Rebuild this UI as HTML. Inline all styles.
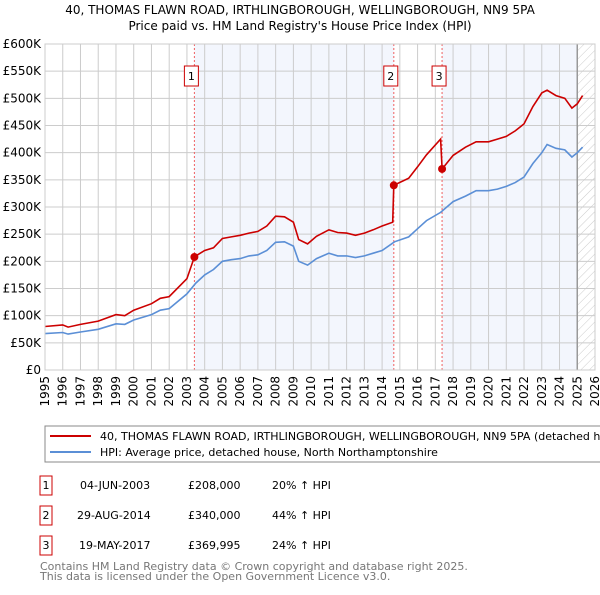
<!DOCTYPE html>
<html><head><meta charset="utf-8"><style>
body{margin:0;background:#fff;font-family:"Liberation Sans","DejaVu Sans",sans-serif;}
svg text{font-family:"DejaVu Sans","Liberation Sans",sans-serif;}
</style></head><body>
<svg id="c" width="600" height="590" xmlns="http://www.w3.org/2000/svg">
<defs><pattern id="hatch" width="6" height="6" patternUnits="userSpaceOnUse" patternTransform="rotate(45)"><line x1="0" y1="0" x2="0" y2="6" stroke="#ccc" stroke-width="1"/></pattern></defs>
<text x="300" y="14" text-anchor="middle" font-size="12">40, THOMAS FLAWN ROAD, IRTHLINGBOROUGH, WELLINGBOROUGH, NN9 5PA</text>
<text x="300" y="30" text-anchor="middle" font-size="12">Price paid vs. HM Land Registry's House Price Index (HPI)</text>
<g id="plot"></g>
<rect x="45" y="426" width="570" height="36" fill="#fff" stroke="#888"/>
<line x1="50" y1="436" x2="91" y2="436" stroke="#cc0000" stroke-width="2"/>
<text x="100" y="440" font-size="11">40, THOMAS FLAWN ROAD, IRTHLINGBOROUGH, WELLINGBOROUGH, NN9 5PA (detached house)</text>
<line x1="50" y1="452" x2="91" y2="452" stroke="#5b8fd6" stroke-width="2"/>
<text x="100" y="456" font-size="11">HPI: Average price, detached house, North Northamptonshire</text>
<g font-size="11">
<rect x="40" y="476" width="12" height="19" fill="#fff" stroke="#cc0000"/><text x="46" y="489" text-anchor="middle">1</text>
<text x="80" y="489">04-JUN-2003</text><text x="188" y="489">£208,000</text><text x="272" y="489">20% ↑ HPI</text>
<rect x="40" y="506" width="12" height="19" fill="#fff" stroke="#cc0000"/><text x="46" y="519" text-anchor="middle">2</text>
<text x="77" y="519">29-AUG-2014</text><text x="188" y="519">£340,000</text><text x="272" y="519">44% ↑ HPI</text>
<rect x="40" y="536" width="12" height="19" fill="#fff" stroke="#cc0000"/><text x="46" y="549" text-anchor="middle">3</text>
<text x="79" y="549">19-MAY-2017</text><text x="188" y="549">£369,995</text><text x="272" y="549">24% ↑ HPI</text>
</g>
<text x="40" y="570" font-size="11" fill="#777">Contains HM Land Registry data © Crown copyright and database right 2025.</text>
<text x="40" y="580" font-size="11" fill="#777">This data is licensed under the Open Government Licence v3.0.</text>
</svg>
<script>
const hpiDates=[1995,1996,1996.3,1997,1998,1999,1999.5,2000,2001,2001.5,2002,2003,2003.5,2004,2004.5,2005,2005.5,2006,2006.5,2007,2007.5,2008,2008.5,2009,2009.3,2009.8,2010.3,2011,2011.5,2012,2012.5,2013,2013.5,2014,2014.7,2015.5,2016,2016.5,2017.3,2018,2018.7,2019.3,2020,2020.5,2021,2021.5,2022,2022.5,2023,2023.3,2023.8,2024.3,2024.7,2025,2025.3];
const hpiValues=[67,69,66,70,75,85,84,92,102,110,113,140,160,175,185,200,203,205,210,212,220,235,236,228,200,193,205,215,210,210,207,210,215,220,236,245,260,275,290,310,320,330,330,333,338,345,355,380,400,415,408,405,392,400,410];
const propDates=[1995,1996,1996.3,1997,1998,1999,1999.5,2000,2001,2001.5,2002,2003,2003.42,2003.5,2004,2004.5,2005,2005.5,2006,2006.5,2007,2007.5,2008,2008.5,2009,2009.3,2009.8,2010.3,2011,2011.5,2012,2012.5,2013,2013.5,2014,2014.6,2014.66,2015.5,2016,2016.5,2017.3,2017.38,2018,2018.7,2019.3,2020,2020.5,2021,2021.5,2022,2022.5,2023,2023.3,2023.8,2024.3,2024.7,2025,2025.3];
const propValues=[80,83,79,84,90,102,100,110,122,132,135,168,208,210,220,225,242,245,248,252,255,265,283,282,272,240,232,246,258,253,252,248,252,258,265,272,340,353,374,396,425,370,395,410,420,420,425,430,440,453,485,510,515,505,500,482,490,505];
const saleDates=[2003.42,2014.66,2017.38];
const saleValues=[208,340,370];
const saleLabels=["1","2","3"];
const yTicks=[0,50,100,150,200,250,300,350,400,450,500,550,600];
const xYears=[1995,1996,1997,1998,1999,2000,2001,2002,2003,2004,2005,2006,2007,2008,2009,2010,2011,2012,2013,2014,2015,2016,2017,2018,2019,2020,2021,2022,2023,2024,2025,2026];

const X0=45,X1=595,Y0=370,Y1=44;
const xs=d=>X0+(d-1995)*(X1-X0)/31;
const ys=v=>Y0-v*(Y0-Y1)/600;
const NS="http://www.w3.org/2000/svg";
const g=document.getElementById('plot');
function mk(t,a,p){const e=document.createElementNS(NS,t);for(const k in a)e.setAttribute(k,a[k]);(p||g).appendChild(e);return e;}
let e;
e=mk('rect',{x:X0,y:Y1,width:X1-X0,height:Y0-Y1,fill:'#fff'});


e=mk('rect',{x:xs(saleDates[0]),y:Y1,width:xs(saleDates[1])-xs(saleDates[0]),height:Y0-Y1,fill:'#f3f6fd'});


e=mk('rect',{x:xs(saleDates[2]),y:Y1,width:xs(2025)-xs(saleDates[2]),height:Y0-Y1,fill:'#f3f6fd'});


e=mk('rect',{x:xs(2025),y:Y1,width:X1-xs(2025),height:Y0-Y1,fill:'url(#hatch)'});


yTicks.forEach(v=>{
 e=mk('line',{x1:X0,x2:X1,y1:ys(v),y2:ys(v),stroke:'#ccc','stroke-width':1});
 
 
 e=mk('text',{x:X0-4,y:ys(v)+4,'text-anchor':'end','font-size':12});
 e.textContent=v===0?'£0':'£'+v+'K';
 
 
});
xYears.forEach(y=>{
 e=mk('line',{x1:xs(y),x2:xs(y),y1:Y1,y2:Y0,stroke:'#ccc','stroke-width':1});
 
 
 e=mk('text',{x:0,y:0,'text-anchor':'end','font-size':12,transform:`translate(${xs(y)+4},${Y0+6}) rotate(-90)`});
 e.textContent=y;
 
 
});
e=mk('line',{x1:xs(2025),x2:xs(2025),y1:Y1,y2:Y0,stroke:'#999','stroke-width':1.5});


saleDates.forEach((d,i)=>{
 e=mk('line',{x1:xs(d),x2:xs(d),y1:Y1,y2:Y0,stroke:'#f06060','stroke-width':1,'stroke-dasharray':'2,2'});
 
 
});
function pts(ds,vs){return ds.map((d,i)=>xs(d).toFixed(1)+','+ys(vs[i]).toFixed(1)).join(' ');}
e=mk('polyline',{points:pts(hpiDates,hpiValues),fill:'none',stroke:'#5b8fd6','stroke-width':1.6});


e=mk('polyline',{points:pts(propDates,propValues),fill:'none',stroke:'#cc0000','stroke-width':1.6});


saleDates.forEach((d,i)=>{
 e=mk('circle',{cx:xs(d),cy:ys(saleValues[i]),r:4,fill:'#cc0000'});
 
 
 e=mk('rect',{x:xs(d)-10,y:66,width:14,height:20,fill:'#fff',stroke:'#cc0000'});
 
 
 e=mk('text',{x:xs(d)-3,y:80,'text-anchor':'middle','font-size':11});
 e.textContent=saleLabels[i];
 
 
});
e=mk('rect',{x:X0,y:Y1,width:X1-X0,height:Y0-Y1,fill:'none',stroke:'#ccc'});


</script>
</body></html>
